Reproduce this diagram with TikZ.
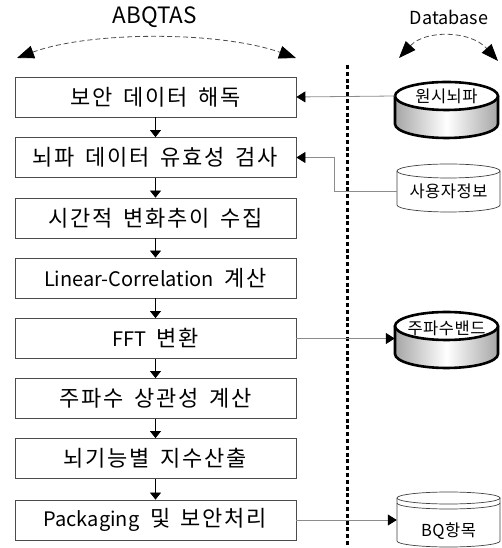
\documentclass[tikz,border=0pt]{standalone}
\usepackage{fontspec}
\setmainfont{Noto Sans CJK KR}
\newfontfamily\hg{Noto Sans CJK KR}[Scale=1.1, LetterSpace=8, WordSpace=1.6]
\newfontfamily\hgdisk{Noto Sans CJK KR}[Scale=1.1, LetterSpace=3]
\usetikzlibrary{arrows.meta,calc}
\tikzset{
  stepbox/.style={draw=black!70, line width=0.8pt, minimum width=281pt, minimum height=40pt,
    inner sep=0pt, font=\fontsize{20}{24}\selectfont},
  down/.style={-{Triangle[length=7pt,width=11pt]}, line width=0.8pt},
  feed/.style={draw=black!45, line width=0.8pt, -{Triangle[length=9pt,width=11pt,black]}},
  sweep/.style={dashed, dash pattern=on 5pt off 3pt, draw=black!70, line width=0.8pt,
    {Triangle[length=17pt,width=13pt,black]}-{Triangle[length=17pt,width=13pt,black]}},
  disklabel/.style={minimum width=103pt, inner sep=0pt, font=\hgdisk\fontsize{15}{19}\selectfont},
  heavydisk/.style={line width=2.6pt, draw=black},
  lightdisk/.style={line width=0.7pt, draw=black!75}
}
\begin{document}
\begin{tikzpicture}[x=1pt, y=1pt]
  \useasboundingbox (0,0) rectangle (502,548);

  % headings
  \node[font=\fontsize{22.5}{26}\selectfont] (abq) at (155,531) {ABQTAS};
  \node[font=\fontsize{18}{21}\selectfont] (dbh) at (449,531) {Database};
  \coordinate (abqL) at (17,490);
  \coordinate (abqR) at (296,490);
  \coordinate (dbL) at (399,490);
  \coordinate (dbR) at (498,487);
  \draw[sweep] (abqL) .. controls (90,517) and (220,517) .. (abqR);
  \draw[sweep] (dbL) .. controls (425,518) and (470,518) .. (dbR);

  % border between system and database
  \coordinate (wallT) at (347,483);
  \coordinate (wallB) at (347,0);
  \draw[line width=3pt, dash pattern=on 4pt off 2.8pt] (wallT) -- (wallB);

  % process steps
  \node[stepbox] (decode)   at (155.5,451)   {\hg 보안 데이터 해독};
  \node[stepbox] (validate) at (155.5,390.5) {\hg 뇌파 데이터 유효성 검사};
  \node[stepbox] (collect)  at (155.5,330)   {\hg 시간적 변화추이 수집};
  \node[stepbox] (linear)   at (155.5,270)   {Linear-Correlation{\hg{} 계산}};
  \node[stepbox] (fft)      at (155.5,209.5) {FFT{\hg{} 변환}};
  \node[stepbox] (freqcorr) at (155.5,149.5) {\hg 주파수 상관성 계산};
  \node[stepbox] (index)    at (155.5,89.5)  {\hg 뇌기능별 지수산출};
  \node[stepbox] (pack)     at (155.5,28)    {Packaging{\hg{} 및 보안처리}};

  \draw[down] (decode) -- (validate);
  \draw[down] (validate) -- (collect);
  \draw[down] (collect) -- (linear);
  \draw[down] (linear) -- (fft);
  \draw[down] (fft) -- (freqcorr);
  \draw[down] (freqcorr) -- (index);
  \draw[down] (index) -- (pack);

  % raw EEG disk
  \shade[left color=black!35, right color=black!35, middle color=white]
    (395,452) -- (395,424) arc[start angle=180, end angle=360, x radius=51.5, y radius=14]
    -- (498,452) -- cycle;
  \draw[heavydisk] (395,452) -- (395,424) arc[start angle=180, end angle=360, x radius=51.5, y radius=14]
    -- (498,452);
  \draw[heavydisk, fill=white] (446.5,452) ellipse[x radius=51.5, y radius=14];
  \node[disklabel] (raw) at (446.5,452) {원시뇌파};

  % user info disk
  \draw[lightdisk, fill=white] (397,377) -- (397,343) arc[start angle=180, end angle=360, x radius=51.5, y radius=7]
    -- (500,377);
  \draw[lightdisk, fill=white] (448.5,377) ellipse[x radius=51.5, y radius=7];
  \node[disklabel] (user) at (448.5,357) {사용자정보};

  % frequency band disk
  \shade[left color=black!35, right color=black!35, middle color=white]
    (395,222) -- (395,194) arc[start angle=180, end angle=360, x radius=51.5, y radius=14]
    -- (498,222) -- cycle;
  \draw[heavydisk] (395,222) -- (395,194) arc[start angle=180, end angle=360, x radius=51.5, y radius=14]
    -- (498,222);
  \draw[heavydisk, fill=white] (446.5,222) ellipse[x radius=51.5, y radius=14];
  \node[disklabel] (band) at (446.5,220) {주파수밴드};

  % BQ item disk
  \draw[lightdisk, fill=white] (397,50) -- (397,7) arc[start angle=180, end angle=360, x radius=51.5, y radius=6]
    -- (500,50);
  \draw[lightdisk, fill=white] (448.5,50) ellipse[x radius=51.5, y radius=6];
  \draw[lightdisk] (397,45) arc[start angle=180, end angle=360, x radius=51.5, y radius=6];
  \node[disklabel] (bq) at (448.5,17) {BQ항목};

  % data flows
  \draw[feed] (raw.west) -- (decode.east);
  \draw[feed] (user.west) -- ++(-62,0) |- (validate.east);
  \draw[feed] (fft.east) -- (fft.east -| band.west);
  \draw[feed] (pack.east) -- (pack.east -| bq.west);
\end{tikzpicture}
\end{document}
